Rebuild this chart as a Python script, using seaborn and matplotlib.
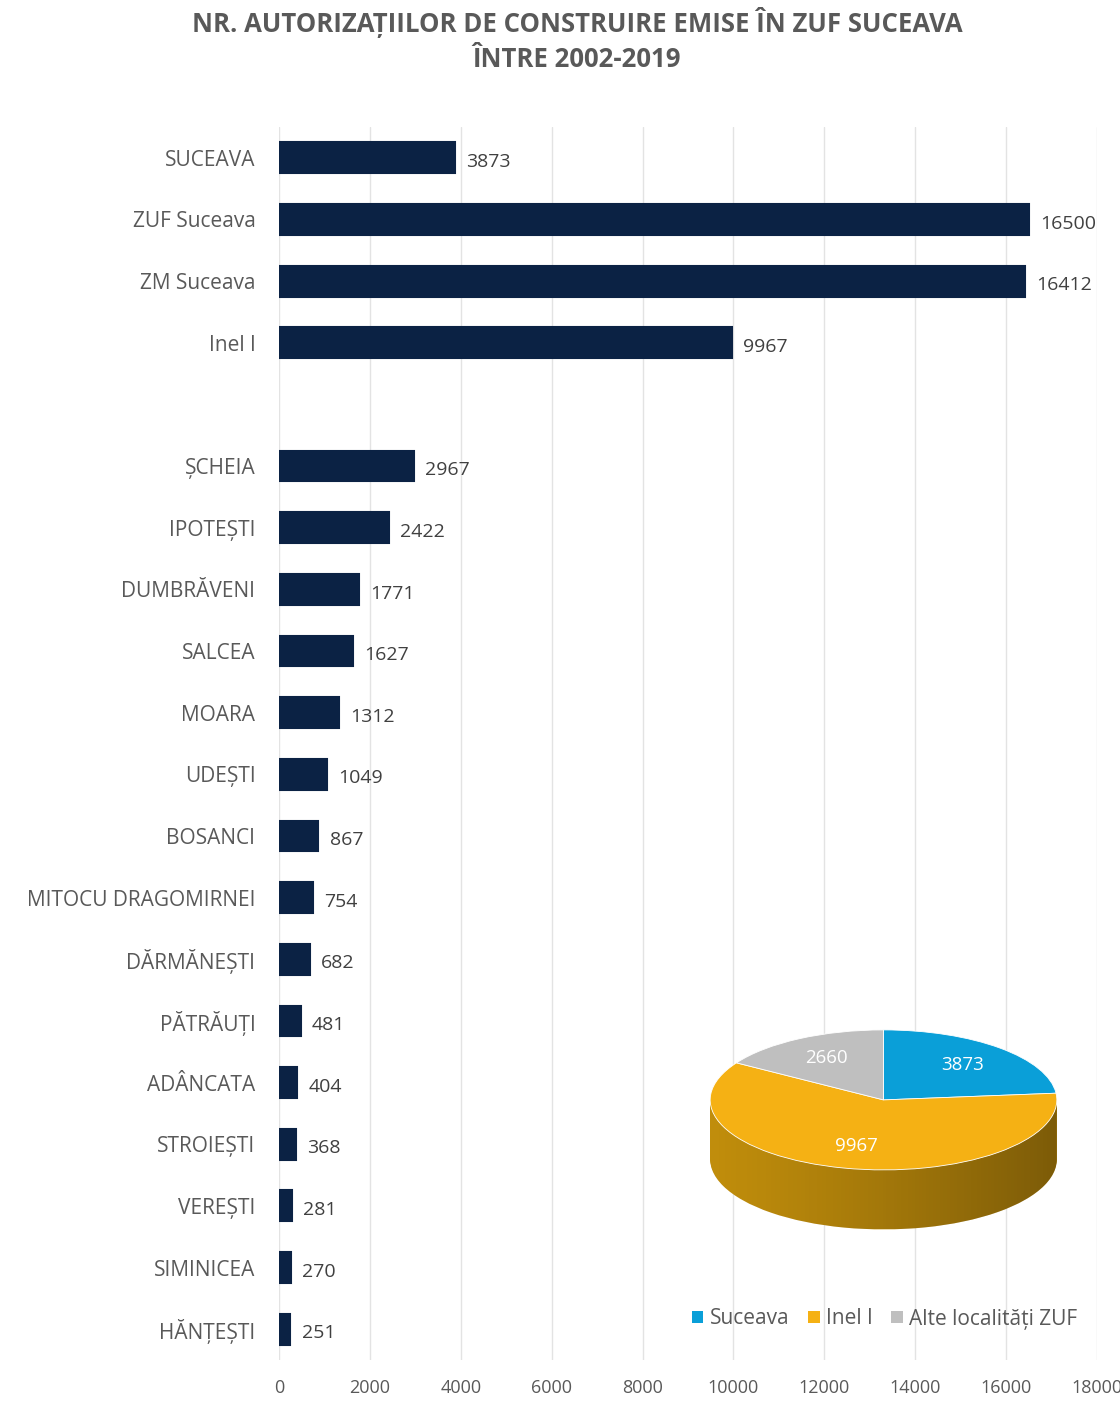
import matplotlib
matplotlib.use("Agg")
import matplotlib.pyplot as plt
import seaborn as sns
import pandas as pd
import numpy as np
from matplotlib.patches import Patch, Polygon

# ---------------- data ----------------
top_labels = ["SUCEAVA", "ZUF Suceava", "ZM Suceava", "Inel I"]
top_values = [3873, 16500, 16412, 9967]
loc_labels = ["ȘCHEIA", "IPOTEȘTI", "DUMBRĂVENI", "SALCEA", "MOARA", "UDEȘTI",
              "BOSANCI", "MITOCU DRAGOMIRNEI", "DĂRMĂNEȘTI", "PĂTRĂUȚI",
              "ADÂNCATA", "STROIEȘTI", "VEREȘTI", "SIMINICEA", "HĂNȚEȘTI"]
loc_values = [2967, 2422, 1771, 1627, 1312, 1049, 867, 754, 682, 481,
              404, 368, 281, 270, 251]
pie_labels = ["Suceava", "Inel I", "Alte localități ZUF"]
pie_values = [3873, 9967, 2660]
x_ticks = [0, 2000, 4000, 6000, 8000, 10000, 12000, 14000, 16000, 18000]
title = "NR. AUTORIZAȚIILOR DE CONSTRUIRE EMISE ÎN ZUF SUCEAVA\nÎNTRE 2002-2019"

# ---------------- style ----------------
sns.set_theme(style="white")
plt.rcParams["font.family"] = ["Open Sans", "DejaVu Sans"]
GREY_TXT = "#595959"
NAVY = "#0b2244"
pie_colors = ["#0a9fd8", "#f5b114", "#bfbfbf"]
side_colors = ["#07749e", "#c08d0c", "#8c8c8c"]

W, H = 1120, 1403
fig = plt.figure(figsize=(W / 100, H / 100), dpi=100)

def px_axes(l, t, r, b):
    return fig.add_axes([l / W, 1 - b / H, (r - l) / W, (b - t) / H])

ax = px_axes(279, 127, 1097, 1360)

df = pd.DataFrame({"label": top_labels + loc_labels,
                   "value": top_values + loc_values})
order = top_labels + [" "] + loc_labels

sns.barplot(data=df, x="value", y="label", order=order, orient="h",
            color=NAVY, width=0.5, saturation=1, ax=ax, zorder=3,
            edgecolor=NAVY, linewidth=1.5)

for lab, val in zip(df["label"], df["value"]):
    ax.annotate(f"{val}", xy=(val, order.index(lab)), xytext=(8, -3),
                textcoords="offset points", va="center", ha="left",
                fontsize=14, color="#404040")

ax.set_xlim(0, 18000)
ax.set_ylim(len(order) - 0.5, -0.5)
ax.set_xticks(x_ticks)
ax.set_xticklabels([str(t) for t in x_ticks])
ax.set_xlabel("")
ax.set_ylabel("")
ax.tick_params(axis="x", labelsize=13, labelcolor=GREY_TXT, pad=14, length=0)
ax.tick_params(axis="y", labelsize=15, labelcolor=GREY_TXT, pad=17, length=0)
for t in ax.get_yticklabels():
    t.set_verticalalignment("center_baseline")
ax.grid(axis="x", color="#e3e3e3", linewidth=1, zorder=0)
ax.grid(axis="y", visible=False)
for s in ax.spines.values():
    s.set_visible(False)

fig.text(577 / W, 1 - 7 / H, title, ha="center", va="top", fontsize=18.5,
         fontweight="bold", color=GREY_TXT, linespacing=1.4)

# ---------------- 3D-ish pie inset ----------------
pax = px_axes(705, 1025, 1062, 1235)
depth = 0.85
for d in np.linspace(depth, 0.0, 45)[:-1]:
    pax.pie(pie_values, colors=side_colors, startangle=90, counterclock=False,
            center=(0, -d), radius=1.0, frame=False,
            wedgeprops=dict(linewidth=0))
# shading on the side of the cylinder (darker towards the right)
th = np.linspace(np.pi, 2 * np.pi, 100)
side = np.vstack([np.c_[np.cos(th), np.sin(th)],
                  np.c_[np.cos(th[::-1]), np.sin(th[::-1]) - depth]])
clip = Polygon(side, closed=True, transform=pax.transData,
               facecolor="none", edgecolor="none")
pax.add_patch(clip)
grad = np.zeros((2, 256, 4))
grad[..., 3] = np.linspace(0.0, 0.42, 256) ** 1.2
img = pax.imshow(grad, extent=(-1, 1, -depth - 1, 0), aspect="auto",
                 zorder=5, interpolation="bilinear")
img.set_clip_path(clip)

total = sum(pie_values)
wedges, _, autotexts = pax.pie(
    pie_values, colors=pie_colors, startangle=90, counterclock=False,
    center=(0, 0), radius=1.0, frame=False,
    autopct=lambda p: f"{p * total / 100:.0f}", pctdistance=0.68,
    wedgeprops=dict(linewidth=0.6, edgecolor="white"),
    textprops=dict(color="white", fontsize=13.5))
for w in wedges:
    w.set_zorder(6)
for t in autotexts:
    t.set_zorder(7)
pax.set_aspect("auto")
pax.set_xlim(-1.03, 1.03)
pax.set_ylim(-1.93, 1.07)
pax.axis("off")

handles = [Patch(facecolor=c, edgecolor="none") for c in pie_colors]
fig.legend(handles, pie_labels, loc="center right",
           bbox_to_anchor=(1096 / W, 1 - 1319 / H), ncol=3, frameon=False,
           fontsize=15, labelcolor=GREY_TXT, handlelength=0.55,
           handleheight=0.55, handletextpad=0.3, columnspacing=0.9)

fig.savefig("out.png", dpi=100, facecolor="white")
